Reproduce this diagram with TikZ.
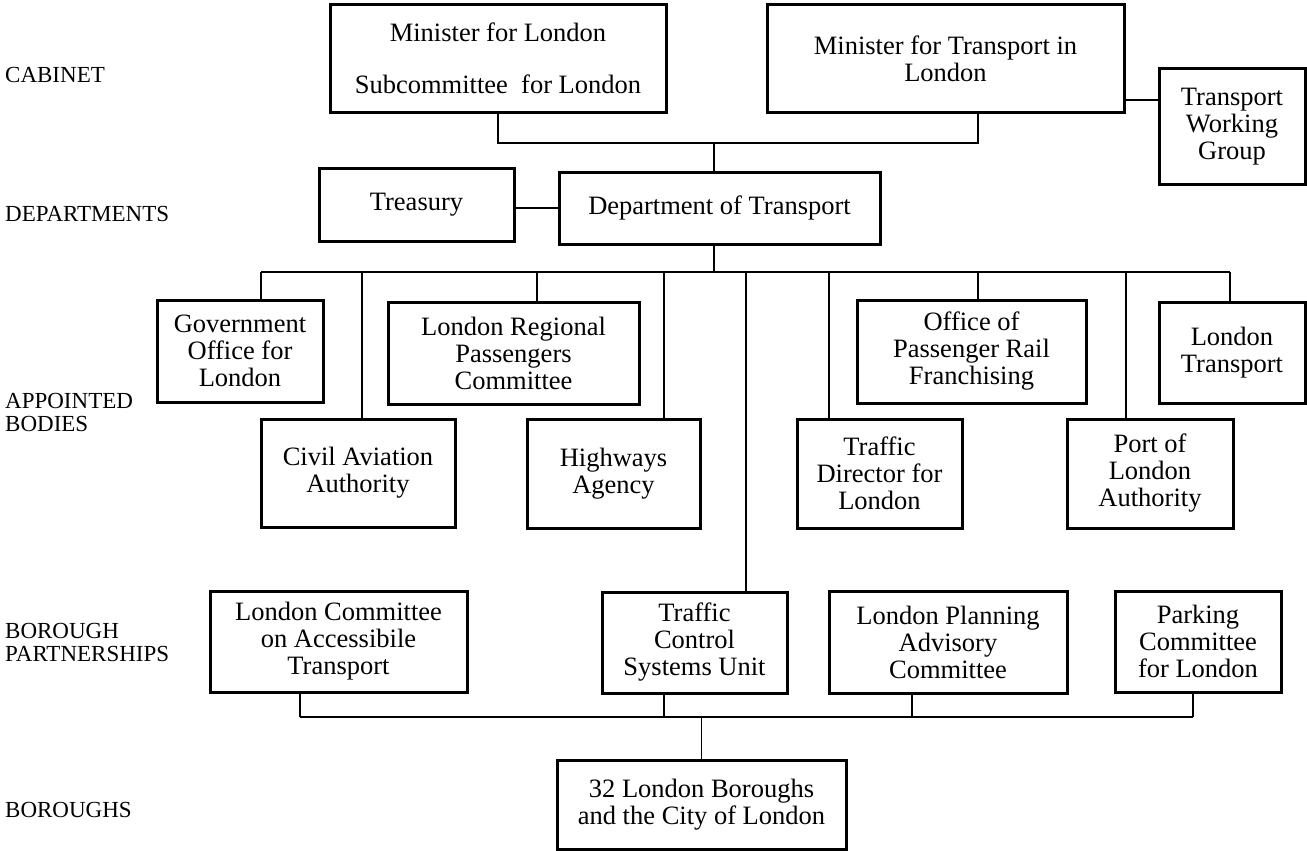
\documentclass[tikz,border=0pt]{standalone}
\usepackage{fontspec}
\setmainfont{Liberation Serif}
\tikzset{
  OrgStyle/.style = { draw, rectangle, line width=3pt, align=center,
                      inner sep=2pt, font = \fontsize{26.5}{27}\selectfont },
  TierStyle/.style = { inner sep=0pt, align=left,
                       font = \fontsize{23}{22.5}\selectfont },
  LinkStyle/.style = { line width=1.6pt } }

\begin{document}
\begin{tikzpicture}[x=1pt,y=-1pt]
  \useasboundingbox (0,0) rectangle (1307,851);
  % tiers on the left
  \node[TierStyle, anchor=base west](CAB) at (5,82){CABINET};
  \node[TierStyle, anchor=base west](DEPS) at (5,221){DEPARTMENTS};
  \node[TierStyle, anchor=west](APPB) at (5,412.5){APPOINTED\\BODIES};
  \node[TierStyle, anchor=west](BORP) at (5,642.5){BOROUGH\\PARTNERSHIPS};
  \node[TierStyle, anchor=base west](BORS) at (5,817){BOROUGHS};

  % cabinet and departments
  \node[OrgStyle, minimum width=336pt, minimum height=107pt](MINL) at (498,58.5)
    {Minister for London\\[25pt]Subcommittee\ \ for London};
  \node[OrgStyle, minimum width=357pt, minimum height=107pt](MINT) at (945.5,58.5)
    {Minister for Transport in\\London};
  \node[OrgStyle, minimum width=146pt, minimum height=115pt](TWG) at (1232,126.5)
    {Transport\\Working\\Group};
  \node[OrgStyle, minimum width=195pt, minimum height=73pt](TREAS) at (416.5,204.5){Treasury};
  \node[OrgStyle, minimum width=321pt, minimum height=72pt](DOT) at (719.5,208)
    {Department of Transport};

  % appointed bodies
  \node[OrgStyle, minimum width=166pt, minimum height=102pt](GOL) at (240,351)
    {Government\\Office for\\London};
  \node[OrgStyle, minimum width=251pt, minimum height=102pt](LRPC) at (513.5,353)
    {London Regional\\Passengers\\Committee};
  \node[OrgStyle, minimum width=229pt, minimum height=103pt](OPRF) at (971.5,351.5)
    {Office of\\Passenger Rail\\Franchising};
  \node[OrgStyle, minimum width=146pt, minimum height=101pt](LT) at (1232,352.5)
    {London\\Transport};
  \node[OrgStyle, minimum width=194pt, minimum height=108pt](CAA) at (358,473)
    {Civil Aviation\\Authority};
  \node[OrgStyle, minimum width=173pt, minimum height=109pt](HA) at (613.5,473.5)
    {Highways\\Agency};
  \node[OrgStyle, minimum width=165pt, minimum height=109pt](TDL) at (879.5,473.5)
    {Traffic\\Director for\\London};
  \node[OrgStyle, minimum width=166pt, minimum height=109pt](PLA) at (1150,473.5)
    {Port of\\London\\Authority};

  % borough partnerships
  \node[OrgStyle, minimum width=257pt, minimum height=101pt](LCAT) at (338.5,641.5)
    {London Committee\\on Accessibile\\Transport};
  \node[OrgStyle, minimum width=185pt, minimum height=101pt](TCSU) at (694.5,642.5)
    {Traffic\\Control\\Systems Unit};
  \node[OrgStyle, minimum width=238pt, minimum height=102pt](LPAC) at (948,642)
    {London Planning\\Advisory\\Committee};
  \node[OrgStyle, minimum width=166pt, minimum height=101pt](PCL) at (1198,641.5)
    {Parking\\Committee\\for London};

  % boroughs
  \node[OrgStyle, minimum width=289pt, minimum height=89pt](LB32) at (701.5,805)
    {32 London Boroughs\\and the City of London};

  % links
  \coordinate (CABBUS) at (714,143);
  \coordinate (M2T) at ([yshift=-41.5pt]MINT.east);
  \coordinate (APPL) at (261,272);
  \coordinate (APPR) at (1230,272);
  \coordinate (BORL) at (300,717);
  \coordinate (BORR) at (1193,717);

  \draw[LinkStyle] (MINL.south) |- (CABBUS) -| ([xshift=32.5pt]MINT.south);
  \draw[LinkStyle] (CABBUS) -- (CABBUS |- DOT.north);
  \draw[LinkStyle] (M2T) -- (M2T -| TWG.west);
  \draw[LinkStyle] (DOT.west) -- (DOT.west -| TREAS.east);

  \draw[LinkStyle] (CABBUS |- DOT.south) -- (CABBUS |- APPL);
  \draw[LinkStyle] (APPL) -- (APPR);
  \foreach \x/\n in {261/GOL,362/CAA,537/LRPC,664/HA,746/TCSU,
                     829/TDL,978/OPRF,1126/PLA,1230/LT}
    \draw[LinkStyle] (APPL -| \x,0) -- (\n.north -| \x,0);

  \draw[LinkStyle] (BORL) -- (BORR);
  \foreach \x/\n in {300/LCAT,664/TCSU,912/LPAC,1193/PCL}
    \draw[LinkStyle] (\n.south -| \x,0) -- (BORL -| \x,0);
  \draw[LinkStyle] (LB32.north |- BORL) -- (LB32.north);
\end{tikzpicture}
\end{document}
